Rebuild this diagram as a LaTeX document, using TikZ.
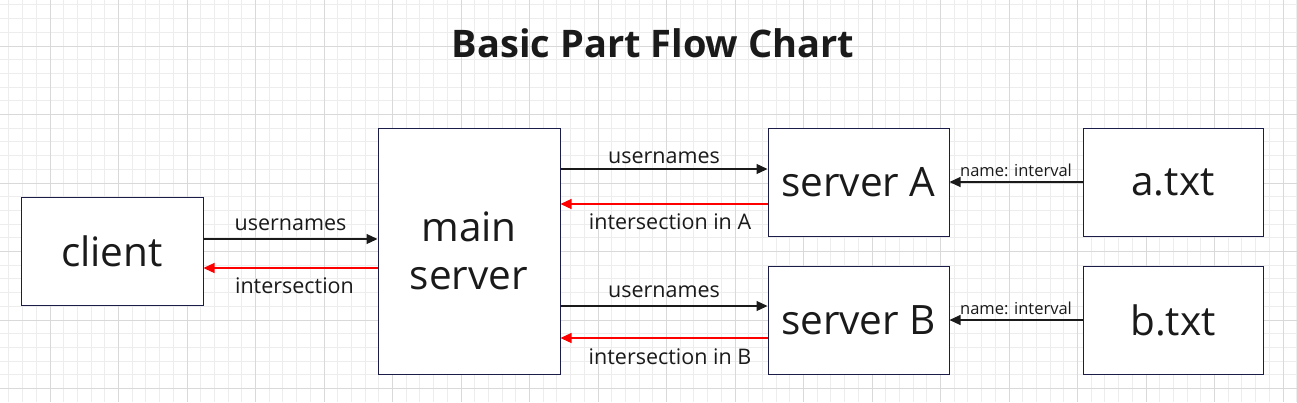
\documentclass[tikz,border=0pt]{standalone}
\usepackage{fontspec}
\setmainfont{Open Sans}
\usetikzlibrary{arrows.meta}

\definecolor{Ink}{HTML}{1A1A1A}
\definecolor{BoxLine}{HTML}{1C1C48}
\definecolor{MinorGrid}{HTML}{EDEDED}
\definecolor{MajorGrid}{HTML}{D9D9D9}
\definecolor{Back}{HTML}{FF0000}

\begin{document}
\begin{tikzpicture}[x=1pt, y=-1pt, >={Triangle[length=11pt,width=10pt]},
      every node/.append style={text=Ink, inner sep=0pt},
      flow/.style={->, line width=1.2pt, draw=Ink},
      back/.style={->, line width=1.2pt, draw=Back, color=Back},
      lbl/.style={font=\fontsize{21.5}{25}\selectfont},
      small/.style={font=\fontsize{16.5}{19}\selectfont}]
    \tikzstyle{box} = [draw=BoxLine, fill=white, line width=1pt, align=center,
      minimum height=108pt, font=\fontsize{40.5}{48}\selectfont]
    \useasboundingbox (0,0) rectangle (1297,402);
    % paper grid
    \begin{scope}[shift={(50,46)}]
      \draw[MinorGrid, line width=1pt, step=13.7pt] (-50,-46) grid (1247,356);
      \draw[MajorGrid, line width=1pt, step=68.5pt] (-50,-46) grid (1247,356);
    \end{scope}
    \node (title) at (653,43) {\fontsize{38}{42}\selectfont\bfseries Basic Part Flow Chart};
    % boxes
    \node (client) [box, minimum width=182pt] at (112,251) {client};
    \node (main) [box, minimum width=182pt, minimum height=246pt] at (469,251) {main\\server};
    \node (serverA) [box, minimum width=181pt] at (858.5,182) {server A};
    \node (serverB) [box, minimum width=181pt] at (858.5,320) {server B};
    \node (atxt) [box, minimum width=180pt] at (1173,182) {a.txt};
    \node (btxt) [box, minimum width=180pt] at (1173,320) {b.txt};
    \coordinate (mainA) at (main.east |- serverA.west);
    \coordinate (mainB) at (main.east |- serverB.west);
    % client <-> main
    \draw[flow] ([yshift=12pt]client.east) -- node[lbl, above=8pt] {usernames} ([yshift=12pt]main.west);
    \draw[back] ([yshift=-17pt]main.west) -- node[lbl, below=9pt, text=Ink, xshift=4pt] {intersection} ([yshift=-17pt]client.east);
    % main <-> server A
    \draw[flow] ([yshift=13pt]mainA) -- node[lbl, above=5pt] {usernames} ([yshift=13pt]serverA.west);
    \draw[back] ([yshift=-22pt]serverA.west) -- node[lbl, below=9pt, text=Ink, xshift=6pt] {intersection in A} ([yshift=-22pt]mainA);
    % main <-> server B
    \draw[flow] ([yshift=14pt]mainB) -- node[lbl, above=8pt] {usernames} ([yshift=14pt]serverB.west);
    \draw[back] ([yshift=-18pt]serverB.west) -- node[lbl, below=10pt, text=Ink, xshift=6pt] {intersection in B} ([yshift=-18pt]mainB);
    % files -> servers
    \draw[flow] (atxt.west) -- node[small, above=5pt] {name: interval} (serverA.east);
    \draw[flow] (btxt.west) -- node[small, above=5pt] {name: interval} (serverB.east);
\end{tikzpicture}
\end{document}
